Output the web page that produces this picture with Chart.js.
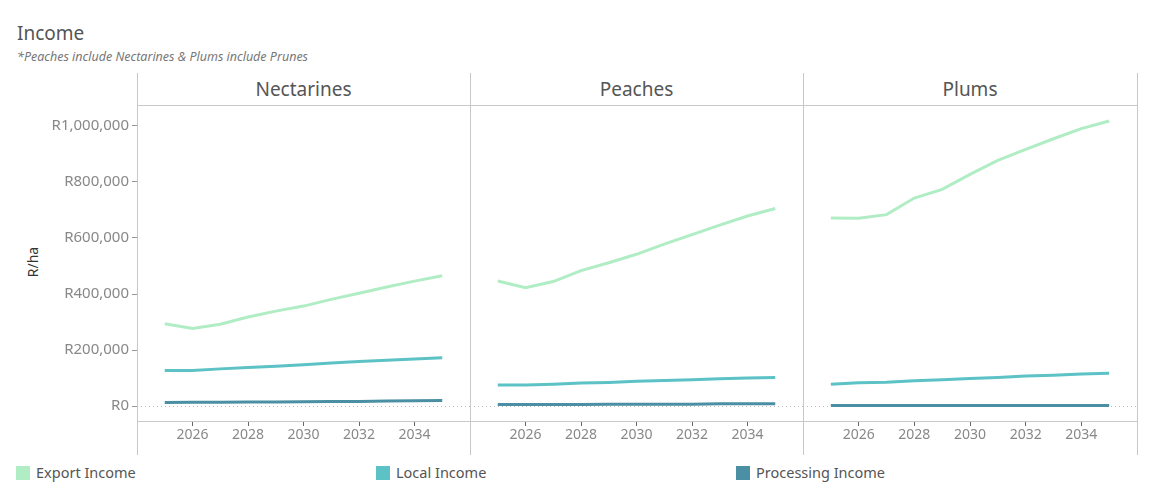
<!DOCTYPE html>
<html>
<head>
<meta charset="utf-8">
<script src="https://cdn.jsdelivr.net/npm/chart.js@4.4.1/dist/chart.umd.min.js"></script>
<style>
  body { margin: 0; background: #fff; font-family: "Noto Sans", sans-serif; }
  #wrap { position: relative; width: 1150px; height: 500px; overflow: hidden; }
  .abs { position: absolute; }
  .vline { position: absolute; width: 1px; background: #c8c8c8; top: 73px; height: 382px; }
  .hline { position: absolute; height: 1px; background: #c8c8c8; left: 137px; width: 1000px; }
  .head { position: absolute; top: 76px; height: 28px; font-size: 19px; color: #555; text-align: center; }
  .leg { position: absolute; top: 462px; font-size: 14.5px; color: #555; }
  .leg span { display: inline-block; width: 14px; height: 14px; vertical-align: -2px; margin-right: 6px; }
</style>
</head>
<body>
<div id="wrap">
  <div class="abs" style="left:17px;top:20px;font-size:19px;color:#555;">Income</div>
  <div class="abs" style="left:17px;top:48px;font-size:12.5px;color:#777;font-style:italic;">*Peaches include Nectarines &amp; Plums include Prunes</div>
  <div class="abs" style="left:32px;top:262px;font-size:14px;color:#333;transform:translate(-50%,-50%) rotate(-90deg);">R/ha</div>

  <div class="head" style="left:137px;width:333px;">Nectarines</div>
  <div class="head" style="left:470px;width:333px;">Peaches</div>
  <div class="head" style="left:803px;width:334px;">Plums</div>

  <canvas id="c1" class="abs" style="left:0;top:94px;width:470px;height:361px;"></canvas>
  <canvas id="c2" class="abs" style="left:470px;top:105px;width:333px;height:350px;"></canvas>
  <canvas id="c3" class="abs" style="left:803px;top:105px;width:334px;height:350px;"></canvas>

  <div class="vline" style="left:137px;"></div>
  <div class="vline" style="left:470px;"></div>
  <div class="vline" style="left:803px;"></div>
  <div class="vline" style="left:1137px;"></div>
  <div class="hline" style="top:105px;"></div>

  <div class="leg" style="left:16px;"><span style="background:#b0edc4"></span>Export Income</div>
  <div class="leg" style="left:376px;"><span style="background:#5cc2c6"></span>Local Income</div>
  <div class="leg" style="left:736px;"><span style="background:#4a8fa3"></span>Processing Income</div>
</div>
<script>
const years = [2025, 2026, 2027, 2028, 2029, 2030, 2031, 2032, 2033, 2034, 2035];
const yearTicks = [2026, 2028, 2030, 2032, 2034];
const incomeTicks = [0, 200000, 400000, 600000, 800000, 1000000];

const nectarinesExport = [294000, 277000, 292000, 318000, 339000, 357000, 381000, 403000, 425000, 446000, 465000];
const nectarinesLocal = [127000, 127000, 133000, 138000, 142000, 148000, 154000, 159000, 164000, 168000, 173000];
const nectarinesProcessing = [13000, 14000, 14000, 15000, 15000, 16000, 17000, 17000, 18000, 19000, 20000];

const peachesExport = [445000, 421000, 443000, 482000, 510000, 540000, 576000, 610000, 644000, 676000, 703000];
const peachesLocal = [75000, 75000, 78000, 82000, 84000, 88000, 91000, 94000, 97000, 100000, 102000];
const peachesProcessing = [6000, 6000, 6000, 6000, 7000, 7000, 7000, 7000, 8000, 8000, 8000];

const plumsExport = [669000, 668000, 681000, 740000, 771000, 824000, 874000, 913000, 951000, 987000, 1014000];
const plumsLocal = [78000, 83000, 85000, 90000, 94000, 98000, 102000, 107000, 110000, 114000, 117000];
const plumsProcessing = [2000, 2000, 2000, 2000, 2000, 2000, 2000, 2000, 2000, 2000, 2000];

const seriesNames = ['Export Income', 'Local Income', 'Processing Income'];
const seriesColors = ['#b0edc4', '#5cc2c6', '#4a8fa3'];

function makeChart(id, exp, loc, proc, showY) {
  const sets = [exp, loc, proc].map((vals, i) => ({
    label: seriesNames[i],
    data: years.map((y, k) => ({ x: y, y: vals[k] })),
    borderColor: seriesColors[i],
    backgroundColor: seriesColors[i],
    borderWidth: 3,
    pointRadius: 0,
    tension: 0
  }));
  return new Chart(document.getElementById(id), {
    type: 'line',
    data: { datasets: sets },
    options: {
      animation: false,
      responsive: false,
      maintainAspectRatio: false,
      layout: { padding: 0 },
      plugins: { legend: { display: false }, tooltip: { enabled: false } },
      scales: {
        x: {
          type: 'linear',
          min: 2024,
          max: 2036,
          afterBuildTicks: s => { s.ticks = yearTicks.map(v => ({ value: v })); },
          afterFit: s => { s.height = 34; },
          ticks: {
            callback: v => String(v),
            color: '#888',
            font: { family: 'Noto Sans', size: 14 },
            padding: 1,
            maxRotation: 0
          },
          grid: { drawOnChartArea: false, tickLength: 5, tickColor: '#666' },
          border: { display: true, color: '#c8c8c8' }
        },
        y: {
          min: -53000,
          max: 1071000,
          afterBuildTicks: s => { s.ticks = incomeTicks.map(v => ({ value: v })); },
          afterFit: s => { s.width = showY ? 137 : 0; },
          ticks: {
            display: showY,
            callback: v => 'R' + v.toLocaleString('en-US'),
            color: '#888',
            font: { family: 'Noto Sans', size: 15 },
            padding: 3
          },
          grid: {
            color: c => (c.tick && c.tick.value === 0) ? '#bbbbbb' : 'rgba(0,0,0,0)',
            tickColor: showY ? '#999' : 'rgba(0,0,0,0)',
            tickLength: showY ? 5 : 0,
            tickBorderDash: [],
            lineWidth: 1
          },
          border: { display: false, dash: [1, 3] }
        }
      }
    }
  });
}

makeChart('c1', nectarinesExport, nectarinesLocal, nectarinesProcessing, true);
makeChart('c2', peachesExport, peachesLocal, peachesProcessing, false);
makeChart('c3', plumsExport, plumsLocal, plumsProcessing, false);
</script>
</body>
</html>
